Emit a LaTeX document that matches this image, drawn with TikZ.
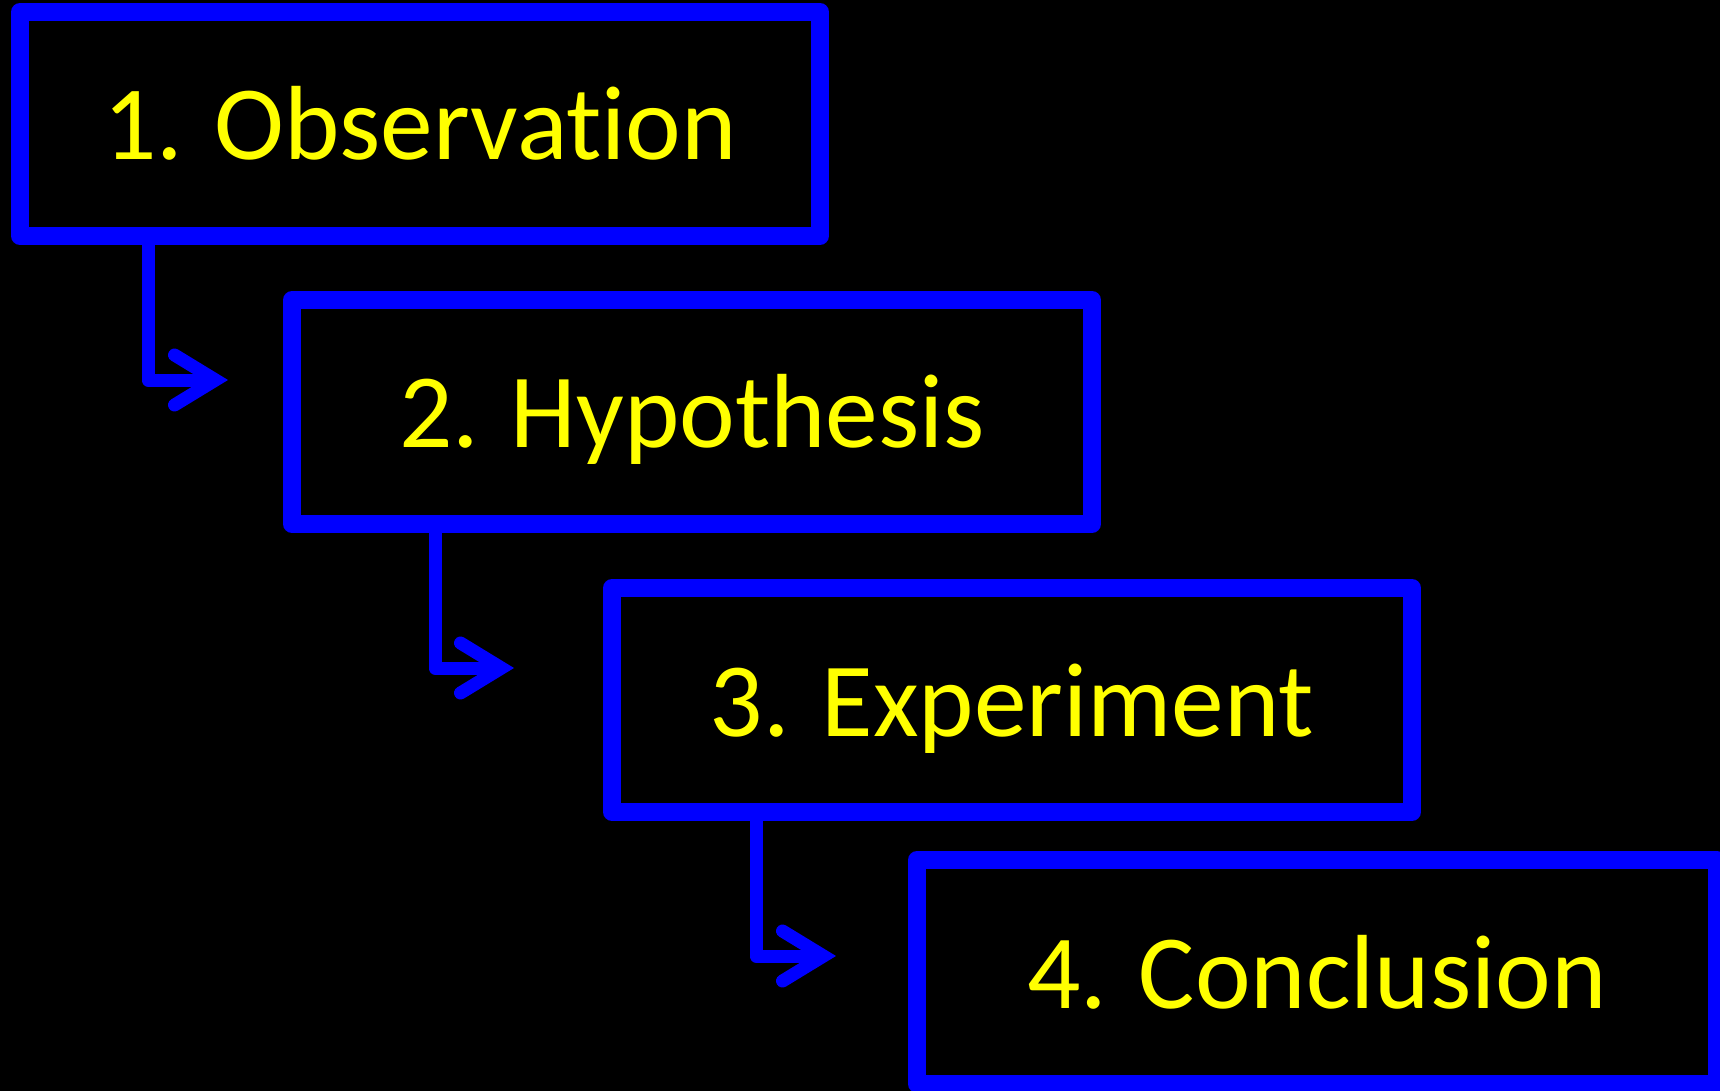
\documentclass[tikz,border=0pt]{standalone}
\usepackage{fontspec}
\setmainfont{Carlito}[Ligatures=NoCommon]
\usetikzlibrary{arrows.meta,calc}
\definecolor{stepblue}{RGB}{0,0,255}
\definecolor{stepyellow}{RGB}{255,255,0}
\begin{document}
\begin{tikzpicture}[x=0.02cm,y=-0.02cm,
  stepbox/.style={rectangle,draw=stepblue,line width=0.36cm,line join=round,
    minimum width=16cm,minimum height=4.48cm,outer sep=0pt,inner sep=0pt,
    text=stepyellow,font=\fontsize{60}{70}\selectfont,
    text height=1.44cm,text depth=0pt},
  flow/.style={draw=stepblue,line width=0.26cm,line join=round,
    -{Straight Barb[length=0.82cm,width=1.0cm,line cap=round]}}]
\fill[black] (0,0) rectangle (1720,1091);
\clip (0,0) rectangle (1720,1091);
\useasboundingbox (0,0) rectangle (1720,1091);

% the four steps
\node[stepbox] (obs) at (420,124) {1. Observation};
\node[stepbox] (hyp) at (692,412) {2. Hypothesis};
\node[stepbox] (exp) at (1012,700) {3. Experiment};
\node[stepbox] (con) at (1317,972) {4. Conclusion};

% arrow ends
\coordinate (t1) at (228,380);
\coordinate (t2) at (514,668);
\coordinate (t3) at (836,956);

\draw[flow] ($(obs.south west)+(128,0)$) |- (t1);
\draw[flow] ($(hyp.south west)+(143,0)$) |- (t2);
\draw[flow] ($(exp.south west)+(144,0)$) |- (t3);
\end{tikzpicture}
\end{document}
